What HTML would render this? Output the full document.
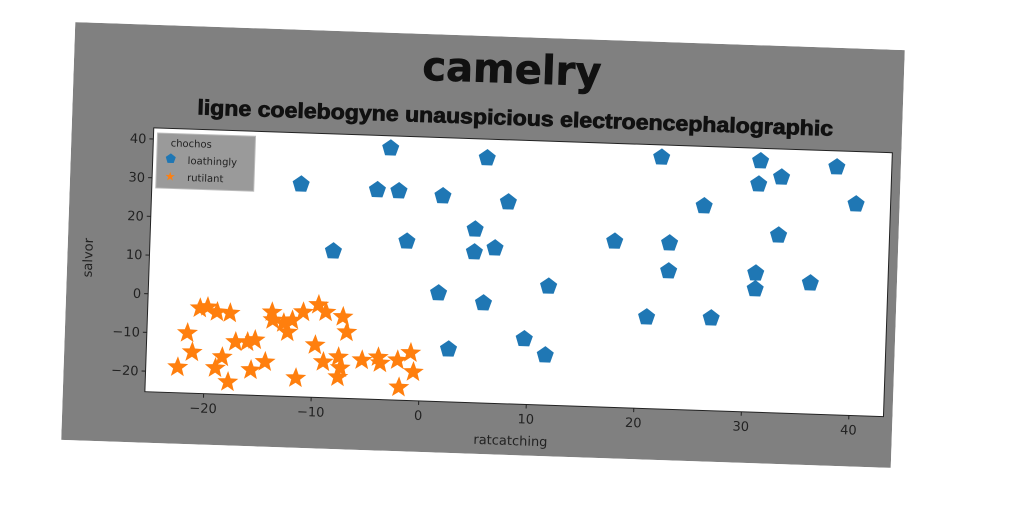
<!DOCTYPE html>
<html><head><meta charset="utf-8"><style>
html,body{margin:0;padding:0;width:1024px;height:512px;overflow:hidden;background:#fff}
#panel{position:absolute;left:68px;top:36px;width:830px;height:418px;transform:rotate(1.93deg);transform-origin:415px 209px}
</style></head><body>
<div id="panel">
<svg id="svg" width="830" height="418" xmlns="http://www.w3.org/2000/svg" font-family="DejaVu Sans, sans-serif">
<rect x="0" y="0" width="830" height="418" fill="#808080"/>
<text x="438" y="46" text-anchor="middle" font-size="40" font-weight="bold" fill="#111" stroke="#111" stroke-width="0.6">camelry</text>
<text x="443" y="88" text-anchor="middle" font-size="21" font-weight="bold" fill="#111" stroke="#111" stroke-width="0.8" font-family="Liberation Sans Narrow, Liberation Sans, sans-serif" textLength="636" lengthAdjust="spacingAndGlyphs">ligne coelebogyne unauspicious electroencephalographic</text>
<rect x="82" y="103" width="739" height="264" fill="#fff" stroke="#222" stroke-width="1"/>
<g id="axes"></g>
<g id="marks"></g>
<text x="449" y="408" text-anchor="middle" font-size="13" fill="#222">ratcatching</text>
<text x="25" y="235" text-anchor="middle" font-size="13" fill="#222" transform="rotate(-90 25 235)">salvor</text>
<g>
<rect x="86" y="108" width="98" height="55" fill="#9a9a9a" stroke="#bbb"/>
<text x="120" y="121" text-anchor="middle" font-size="10" fill="#222">chochos</text>
<path d="M102,129 l5,3.6 -1.9,5.9 -6.2,0 -1.9,-5.9z" fill="#1f77b4" transform="translate(-2,-1)"/>
<text x="117" y="138" font-size="10" fill="#222">loathingly</text>
<text x="100" y="155" text-anchor="middle" font-size="12" fill="#ff7f0e">★</text>
<text x="117" y="155" font-size="10" fill="#222">rutilant</text>
</g>
</svg></div>
<script>
const xTicks=[-20,-10,0,10,20,30,40];
const yTicks=[-20,-10,0,10,20,30,40];
const blueX=[-3.4,5.6,-11.6,-4.5,-2.5,1.6,7.7,21.8,31.0,33.0,30.9,38.1,40.0,25.9,17.7,-1.6,4.7,6.6,4.7,-8.4,22.8,32.9,22.8,30.9,30.9,36.0,1.5,11.7,5.7,20.9,26.9,9.6,11.6,2.6];
const blueY=[39.7,38.0,29.6,28.8,28.7,27.8,26.8,39.7,39.6,35.6,33.6,38.7,29.3,27.5,17.6,15.8,19.5,14.8,13.6,12.6,17.6,20.6,10.4,10.6,6.5,8.5,2.7,5.4,0.5,-1.7,-1.4,-8.4,-12.4,-11.7];
const orangeX=[-19.9,-19.0,-17.8,-20.6,-21.7,-21.2,-22.5,-19.0,-18.4,-17.8,-17.2,-16.1,-15.4,-15.7,-14.4,-13.9,-13.8,-12.8,-12.4,-12.0,-11.0,-9.6,-8.9,-7.3,-6.9,-9.8,-11.5,-9.0,-7.6,-7.4,-7.6,-5.4,-3.9,-3.7,-2.1,-0.9,-0.6,-1.9];
const orangeY=[-2.9,-4.1,-4.3,-3.3,-9.8,-14.7,-18.7,-18.6,-15.7,-22.1,-11.7,-11.6,-11.0,-18.8,-16.6,-3.7,-5.7,-6.4,-8.7,-5.6,-3.4,-1.4,-3.2,-4.3,-8.2,-11.8,-20.5,-16.1,-14.7,-17.5,-19.9,-15.3,-14.4,-15.9,-15.0,-13.0,-17.9,-22.0];
const NS='http://www.w3.org/2000/svg';
function sx(v){return 356+v*10.76;}
function sy(v){return 269-v*3.87;}
const axes=document.getElementById('axes'), marks=document.getElementById('marks');
function mk(tag,attrs,parent){const e=document.createElementNS(NS,tag);for(const k in attrs)e.setAttribute(k,attrs[k]);parent.appendChild(e);return e;}
xTicks.forEach(t=>{
  const l=mk('line',{x1:sx(t),x2:sx(t),y1:367,y2:371,stroke:'#222'},axes);
  
  
  const tx=mk('text',{x:sx(t),y:386,'text-anchor':'middle','font-size':13,fill:'#222'},axes);
  tx.textContent=t<0?'\u2212'+(-t):String(t);
  
  
});
yTicks.forEach(t=>{
  const l=mk('line',{x1:78,x2:82,y1:sy(t),y2:sy(t),stroke:'#222'},axes);
  
  
  const tx=mk('text',{x:75,y:sy(t)+4.5,'text-anchor':'end','font-size':13,fill:'#222'},axes);
  tx.textContent=t<0?'\u2212'+(-t):String(t);
  
  
});
function poly(cx,cy,r,n,inner){let p=[];const k=inner?n*2:n;for(let i=0;i<k;i++){const a=-Math.PI/2+i*2*Math.PI/k;const rr=inner&&i%2?r*inner:r;p.push((cx+rr*Math.cos(a)).toFixed(1)+','+(cy+rr*Math.sin(a)).toFixed(1));}return p.join(' ');}
blueX.forEach((v,i)=>{
  const e=mk('polygon',{points:poly(sx(v),sy(blueY[i]),9,5),fill:'#1f77b4'},marks);
  
  
});
orangeX.forEach((v,i)=>{
  const e=mk('polygon',{points:poly(sx(v),sy(orangeY[i]),11,5,0.42),fill:'#ff7f0e'},marks);
  
  
});
</script>
</body></html>
